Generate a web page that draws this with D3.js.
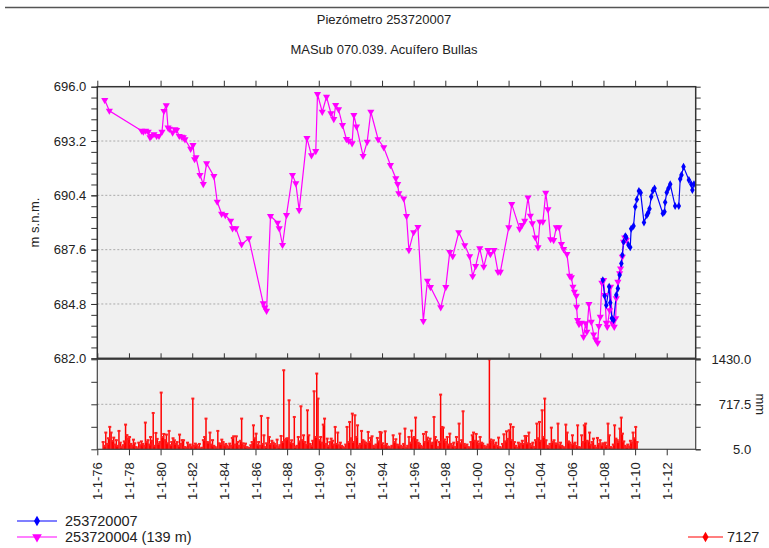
<!DOCTYPE html>
<html>
<head>
<meta charset="utf-8">
<script src="https://cdn.jsdelivr.net/npm/d3@7"></script>
<style>
  body { margin: 0; background: #fff; }
  svg { font-family: "Liberation Sans", Arial, sans-serif; }
</style>
</head>
<body>
<svg width="769" height="548"></svg>
<script>
// piezometer 253720004 (magenta): decimal year, level m s.n.m.
var magYears = [1976.47,1976.76,1978.80,1978.91,1979.06,1979.22,1979.33,1979.43,1979.58,1979.75,1979.90,
  1980.09,1980.21,1980.36,1980.47,1980.55,1980.76,1980.91,1981.01,1981.18,1981.33,1981.43,1981.54,1981.90,
  1982.05,1982.15,1982.24,1982.49,1982.70,1982.91,1983.37,1983.58,1983.86,1984.09,1984.43,1984.55,1984.76,
  1985.12,1985.58,1986.49,1986.59,1986.70,1986.95,1987.40,1987.50,1987.71,1987.96,1988.34,1988.55,1988.76,
  1989.25,1989.54,1989.81,1989.92,1990.22,1990.49,1990.77,1990.95,1991.07,1991.25,1991.50,1991.75,1991.90,
  1992.11,1992.22,1992.39,1992.80,1993.06,1993.29,1993.75,1994.11,1994.53,1994.87,1994.99,1995.06,1995.37,
  1995.55,1995.70,1996.00,1996.27,1996.61,1996.87,1997.06,1997.71,1998.03,1998.28,1998.47,1998.85,1999.23,
  1999.54,1999.73,1999.92,2000.18,2000.43,2000.70,2000.85,2001.08,2001.33,2001.48,2002.01,2002.20,2002.70,
  2002.85,2003.02,2003.23,2003.38,2003.50,2003.69,2003.86,2003.98,2004.17,2004.35,2004.49,2004.66,2004.85,
  2005.02,2005.19,2005.34,2005.48,2005.69,2005.86,2005.97,2006.07,2006.16,2006.28,2006.30,2006.36,2006.45,
  2006.60,2006.74,2006.87,2006.95,2007.08,2007.23,2007.38,2007.50,2007.63,2007.71,2007.80,2007.90,2008.01,
  2008.09,2008.18,2008.24,2008.39,2008.45,2008.56,2008.68,2008.77,2008.81,2008.91,2009.02,2009.08,2009.19,
  2009.27,2009.34,2009.44];
var magLevels = [695.31,694.76,693.73,693.68,693.73,693.68,693.39,693.46,693.55,693.46,693.46,
  693.68,694.75,695.04,693.89,693.83,693.63,693.80,693.77,693.46,693.42,693.39,693.29,692.80,
  692.99,692.26,692.36,691.45,690.98,692.05,691.39,690.07,689.45,689.38,689.09,688.70,688.70,
  687.87,688.18,684.83,684.62,684.45,689.33,688.99,688.70,687.84,689.38,691.45,691.02,689.64,
  693.35,692.46,692.68,695.62,694.70,695.48,694.63,694.33,695.06,694.83,694.02,693.30,693.21,
  693.08,694.54,693.94,692.43,693.16,694.71,693.29,692.87,691.96,691.28,690.98,690.50,690.24,
  689.33,687.58,688.50,688.77,683.92,686.00,685.67,684.63,685.67,687.47,687.26,688.50,687.83,
  687.26,686.23,686.75,687.67,686.72,687.58,687.37,687.58,686.46,686.46,688.75,689.95,688.67,
  688.87,689.09,690.28,689.35,688.96,688.23,687.72,689.04,689.04,690.53,689.68,688.14,688.09,
  688.75,688.75,687.89,687.63,687.37,686.25,686.17,685.69,685.43,685.22,684.65,683.97,683.76,
  683.83,683.11,683.80,683.37,684.79,683.88,683.23,682.97,682.80,683.66,684.14,685.89,686.03,
  685.26,683.83,683.62,684.48,685.69,683.80,683.62,684.06,685.09,685.94,686.38,686.63,687.23,
  688.00,688.23,688.09];

// piezometer 253720007 (blue)
var blueYears = [2007.96,2008.07,2008.18,2008.36,2008.43,2008.53,2008.64,2008.81,2008.91,2009.02,2009.13,
  2009.19,2009.27,2009.38,2009.44,2009.58,2009.69,2009.75,2009.90,2010.01,2010.11,2010.24,2010.35,2010.56,
  2010.74,2010.83,2010.91,2011.02,2011.12,2011.23,2011.75,2011.86,2011.90,2012.00,2012.11,2012.22,2012.53,
  2012.76,2012.85,2012.93,2013.06,2013.40,2013.55,2013.62,2013.72];
var blueLevels = [686.03,685.22,684.74,685.69,684.86,684.06,683.97,685.26,685.60,686.29,686.89,
  687.32,688.00,688.30,688.23,687.84,687.72,688.68,688.82,689.81,690.19,690.62,690.53,689.00,
  689.37,689.50,689.71,690.33,690.64,690.76,689.47,689.55,690.04,690.55,690.76,690.97,689.85,
  689.85,691.24,691.45,691.87,691.19,690.97,690.67,690.98];

// rain station 7127, monthly values (mm), one row per year from 1976
var rainFirstYear = 1976;
var rainMonthly = [
  null,null,null,null,120,60,270,90,180,360,270,140,
  190,80,150,60,296,110,40,70,130,396,230,170,
  200,90,60,158,100,40,20,110,70,130,90,60,
  428,120,150,80,200,140,580,60,264,170,90,120,
  903,200,248,150,238,100,296,70,120,180,148,90,
  120,60,238,90,150,148,40,30,110,70,80,50,
  808,60,95,70,40,90,20,30,150,200,491,120,
  110,270,80,150,60,40,20,296,100,90,158,120,
  70,90,60,40,95,60,185,211,80,211,120,60,
  140,491,100,60,95,40,20,30,70,120,385,180,
  253,80,121,60,533,90,227,40,100,502,200,90,
  140,110,90,60,158,40,70,216,120,1257,150,174,
  180,781,110,148,90,517,40,60,200,130,686,150,
  227,120,80,623,227,90,60,140,924,200,1204,808,
  150,200,110,396,491,90,174,60,120,174,140,80,
  359,90,270,70,110,60,40,30,80,359,120,438,
  180,570,120,544,200,385,60,90,296,150,130,110,
  90,280,120,185,211,60,40,80,185,130,280,270,
  100,60,290,90,50,40,20,60,227,120,164,80,
  70,253,60,40,90,333,30,60,200,110,301,180,
  200,507,150,110,90,60,40,248,120,280,190,140,
  174,90,110,517,200,148,40,120,871,359,348,160,
  120,200,80,253,90,60,110,40,200,120,412,100,
  150,607,90,60,80,40,30,120,227,270,140,248,
  130,90,200,110,95,60,30,50,80,1430,160,120,
  148,80,110,60,190,40,20,90,243,130,290,170,
  306,401,150,359,120,60,30,110,80,95,140,90,
  216,216,100,270,90,60,110,40,150,412,180,438,
  140,623,200,808,148,60,40,90,348,120,148,100,
  90,412,70,110,60,40,30,396,270,130,110,80,
  227,90,110,60,385,40,30,227,120,385,412,140,
  130,270,80,120,174,60,30,185,90,150,70,100,
  90,110,60,412,227,40,20,80,385,174,150,120,
  333,507,253,130,60,40,80,50,140,110,270,180,
  359,120
];

var levelTicks = [682.0, 684.8, 687.6, 690.4, 693.2, 696.0];
var rainTicks = [5.0, 717.5, 1430.0];

function dec(y) {
  var yr = Math.floor(y), s = new Date(yr, 0, 1), e = new Date(yr + 1, 0, 1);
  return new Date(+s + (y - yr) * (e - s));
}

var svg = d3.select("svg");
var left = 97.3, right = 695.7;
var upTop = 86.7, upBot = 358.3, lowTop = 359.3, lowBot = 449.3;

var x = d3.scaleTime().domain([new Date(1976, 0, 1), dec(2013.83)]).range([left, right]);
var yUp = d3.scaleLinear().domain([682, 696]).range([upBot, upTop]);
var yLow = d3.scaleLinear().domain([5, 1430]).range([lowBot, lowTop]);

// top rule
svg.append("line").attr("x1", 5).attr("x2", 769).attr("y1", 7.5).attr("y2", 7.5)
  .attr("stroke", "#555").attr("stroke-width", 1.5);

// titles
svg.append("text").attr("x", 384).attr("y", 24).attr("text-anchor", "middle")
  .style("font-size", "13px").attr("fill", "#222").text("Piezómetro 253720007");
svg.append("text").attr("x", 384).attr("y", 54).attr("text-anchor", "middle")
  .style("font-size", "13px").attr("fill", "#222").text("MASub 070.039. Acuífero Bullas");

// panels
svg.append("rect").attr("x", left).attr("y", upTop).attr("width", right - left).attr("height", upBot - upTop).attr("fill", "#f0f0f0");
svg.append("rect").attr("x", left).attr("y", lowTop).attr("width", right - left).attr("height", lowBot - lowTop).attr("fill", "#f0f0f0");

// grid
svg.selectAll(".gup").data(levelTicks.slice(1, 5)).enter().append("line")
  .attr("x1", left).attr("x2", right)
  .attr("y1", function(d) { return yUp(d); }).attr("y2", function(d) { return yUp(d); })
  .attr("stroke", "#aaa").attr("stroke-dasharray", "2,2");
svg.append("line").attr("x1", left).attr("x2", right)
  .attr("y1", yLow(717.5)).attr("y2", yLow(717.5))
  .attr("stroke", "#aaa").attr("stroke-dasharray", "2,2");

// rain stems
var rain = [];
rainMonthly.forEach(function(v, i) {
  if (v == null) return;
  var yr = rainFirstYear + Math.floor(i / 12), m = i % 12;
  rain.push({ date: new Date(yr, m, 15), v: v });
});
var rg = svg.append("g");
rg.selectAll("line").data(rain).enter().append("line")
  .attr("x1", function(d) { return x(d.date); }).attr("x2", function(d) { return x(d.date); })
  .attr("y1", yLow(5)).attr("y2", function(d) { return yLow(d.v); })
  .attr("stroke", "#ff0000").attr("stroke-width", 1.5);
rg.selectAll("rect").data(rain).enter().append("rect")
  .attr("x", function(d) { return x(d.date) - 1.5; }).attr("y", function(d) { return yLow(d.v) - 1; })
  .attr("width", 3).attr("height", 2).attr("fill", "#ff2020");

// level series
var magData = magYears.map(function(y, i) { return { date: dec(y), v: magLevels[i] }; });
var blueData = blueYears.map(function(y, i) { return { date: dec(y), v: blueLevels[i] }; });
var line = d3.line().x(function(d) { return x(d.date); }).y(function(d) { return yUp(d.v); });

svg.append("path").datum(magData).attr("d", line).attr("fill", "none").attr("stroke", "#ff00ff").attr("stroke-width", 1.2);
svg.append("path").datum(blueData).attr("d", line).attr("fill", "none").attr("stroke", "#0000ff").attr("stroke-width", 1.2);

var tri = d3.symbol().type(d3.symbolTriangle).size(22);
var dia = d3.symbol().type(d3.symbolDiamond).size(18);
svg.append("g").selectAll("path").data(magData).enter().append("path")
  .attr("d", tri).attr("fill", "#ff00ff")
  .attr("transform", function(d) { return "translate(" + x(d.date) + "," + yUp(d.v) + ") rotate(180)"; });
svg.append("g").selectAll("path").data(blueData).enter().append("path")
  .attr("d", dia).attr("fill", "#0000ff")
  .attr("transform", function(d) { return "translate(" + x(d.date) + "," + yUp(d.v) + ")"; });

// frames
svg.append("rect").attr("x", left).attr("y", upTop).attr("width", right - left).attr("height", upBot - upTop)
  .attr("fill", "none").attr("stroke", "#333").attr("stroke-width", 1.5);
svg.append("rect").attr("x", left).attr("y", lowTop).attr("width", right - left).attr("height", lowBot - lowTop)
  .attr("fill", "none").attr("stroke", "#444").attr("stroke-width", 1.2);

// axes
var minorUp = d3.range(0, 26).map(function(i) { return 682 + i * 0.56; });
var minorLow = d3.range(0, 5).map(function(i) { return 5 + i * 356.25; });
var yearTicks = d3.timeYear.every(2).range(new Date(1976, 0, 1), new Date(2013, 0, 2));

function style(g) {
  g.select(".domain").remove();
  g.selectAll("line").attr("stroke", "#333");
  g.selectAll("text").attr("fill", "#222").style("font-size", "13px").style("font-family", "'Liberation Sans', Arial, sans-serif");
}

svg.append("g").attr("transform", "translate(" + left + ",0)")
  .call(d3.axisLeft(yUp).tickValues(minorUp).tickSize(6).tickFormat("")).call(style);
svg.append("g").attr("transform", "translate(" + left + ",0)")
  .call(d3.axisLeft(yUp).tickValues(levelTicks).tickSize(6).tickPadding(5).tickFormat(d3.format(".1f"))).call(style);
svg.append("g").attr("transform", "translate(" + right + ",0)")
  .call(d3.axisRight(yUp).tickValues(minorUp).tickSize(5).tickFormat("")).call(style);

svg.append("g").attr("transform", "translate(" + left + ",0)")
  .call(d3.axisLeft(yLow).tickValues(minorLow).tickSize(6).tickFormat("")).call(style);
svg.append("g").attr("transform", "translate(" + right + ",0)")
  .call(d3.axisRight(yLow).tickValues(minorLow).tickSize(5).tickFormat("")).call(style);
var rAx = svg.append("g").attr("transform", "translate(" + right + ",0)")
  .call(d3.axisRight(yLow).tickValues(rainTicks).tickSize(5).tickFormat(d3.format(".1f"))).call(style);
rAx.selectAll("text").attr("text-anchor", "end").attr("x", 55.5);

svg.append("g").attr("transform", "translate(0," + upTop + ")")
  .call(d3.axisTop(x).tickValues(yearTicks).tickSize(6).tickFormat("")).call(style);
svg.append("g").attr("transform", "translate(0," + upBot + ")")
  .call(d3.axisTop(x).tickValues(yearTicks).tickSize(5).tickFormat("")).call(style);
var xAx = svg.append("g").attr("transform", "translate(0," + lowBot + ")")
  .call(d3.axisBottom(x).tickValues(yearTicks).tickSize(6).tickFormat(d3.timeFormat("%-d-%-m-%y"))).call(style);
xAx.selectAll("text").attr("text-anchor", "end").attr("transform", "rotate(-90)")
  .attr("x", -13).attr("y", 0).attr("dy", "0.35em");

// axis titles
svg.append("text").attr("transform", "translate(39," + ((upTop + upBot) / 2) + ") rotate(-90)")
  .attr("text-anchor", "middle").style("font-size", "13px").attr("fill", "#222").text("m s.n.m.");
svg.append("text").attr("transform", "translate(756," + ((lowTop + lowBot) / 2) + ") rotate(90)")
  .attr("text-anchor", "middle").style("font-size", "13px").attr("fill", "#222").text("mm");

// legend
var legend = [
  { x: 17, y: 521, w: 40, tx: 65, color: "#0000ff", sym: "d", label: "253720007" },
  { x: 17, y: 537, w: 40, tx: 65, color: "#ff00ff", sym: "t", label: "253720004 (139 m)" },
  { x: 688, y: 537, w: 35, tx: 727, color: "#ff0000", sym: "d", label: "7127" }
];
var lg = svg.append("g").selectAll("g").data(legend).enter().append("g");
lg.append("line").attr("x1", function(d) { return d.x; }).attr("x2", function(d) { return d.x + d.w; })
  .attr("y1", function(d) { return d.y; }).attr("y2", function(d) { return d.y; })
  .attr("stroke", function(d) { return d.color; }).attr("stroke-width", 1.2);
lg.append("path")
  .attr("d", function(d) { return d.sym === "t" ? d3.symbol().type(d3.symbolTriangle).size(40)() : d3.symbol().type(d3.symbolDiamond).size(32)(); })
  .attr("fill", function(d) { return d.color; })
  .attr("transform", function(d) { return "translate(" + (d.x + d.w / 2) + "," + d.y + ")" + (d.sym === "t" ? " rotate(180)" : ""); });
lg.append("text").attr("x", function(d) { return d.tx; }).attr("y", function(d) { return d.y + 5; })
  .style("font-size", "14.5px").attr("fill", "#222").text(function(d) { return d.label; });
</script>
</body>
</html>
